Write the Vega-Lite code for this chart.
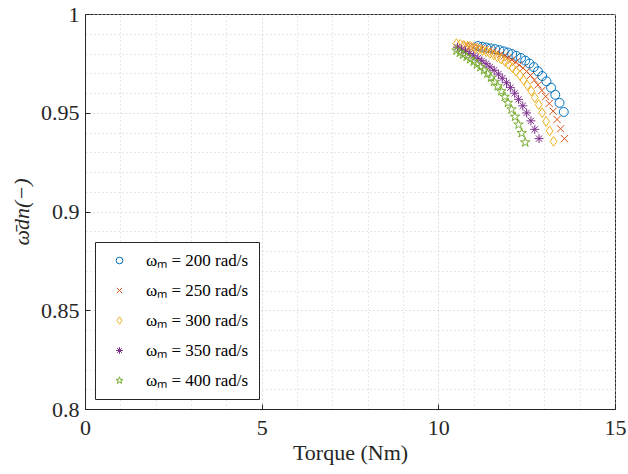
{
  "$schema": "https://vega.github.io/schema/vega-lite/v6.json",
  "width": 530,
  "height": 395,
  "autosize": "none",
  "padding": {"left": 85, "top": 14, "right": 13, "bottom": 65},
  "background": "white",
  "config": {
    "view": {"stroke": "#262626", "strokeWidth": 1},
    "font": "Liberation Serif"
  },
  "data": {
    "values": [
      {"speed": "200", "torque": 11.12, "omega": 0.9838},
      {"speed": "200", "torque": 11.24, "omega": 0.9834},
      {"speed": "200", "torque": 11.36, "omega": 0.9830},
      {"speed": "200", "torque": 11.48, "omega": 0.9826},
      {"speed": "200", "torque": 11.61, "omega": 0.9822},
      {"speed": "200", "torque": 11.73, "omega": 0.9817},
      {"speed": "200", "torque": 11.85, "omega": 0.9811},
      {"speed": "200", "torque": 11.97, "omega": 0.9805},
      {"speed": "200", "torque": 12.09, "omega": 0.9797},
      {"speed": "200", "torque": 12.21, "omega": 0.9788},
      {"speed": "200", "torque": 12.34, "omega": 0.9777},
      {"speed": "200", "torque": 12.46, "omega": 0.9764},
      {"speed": "200", "torque": 12.58, "omega": 0.9749},
      {"speed": "200", "torque": 12.70, "omega": 0.9731},
      {"speed": "200", "torque": 12.82, "omega": 0.9710},
      {"speed": "200", "torque": 12.94, "omega": 0.9686},
      {"speed": "200", "torque": 13.06, "omega": 0.9659},
      {"speed": "200", "torque": 13.19, "omega": 0.9627},
      {"speed": "200", "torque": 13.31, "omega": 0.9591},
      {"speed": "200", "torque": 13.43, "omega": 0.9550},
      {"speed": "200", "torque": 13.55, "omega": 0.9504},
      {"speed": "250", "torque": 10.80, "omega": 0.9843},
      {"speed": "250", "torque": 10.91, "omega": 0.9839},
      {"speed": "250", "torque": 11.01, "omega": 0.9835},
      {"speed": "250", "torque": 11.12, "omega": 0.9830},
      {"speed": "250", "torque": 11.23, "omega": 0.9826},
      {"speed": "250", "torque": 11.33, "omega": 0.9821},
      {"speed": "250", "torque": 11.44, "omega": 0.9816},
      {"speed": "250", "torque": 11.55, "omega": 0.9810},
      {"speed": "250", "torque": 11.65, "omega": 0.9803},
      {"speed": "250", "torque": 11.76, "omega": 0.9796},
      {"speed": "250", "torque": 11.87, "omega": 0.9788},
      {"speed": "250", "torque": 11.97, "omega": 0.9779},
      {"speed": "250", "torque": 12.08, "omega": 0.9768},
      {"speed": "250", "torque": 12.19, "omega": 0.9756},
      {"speed": "250", "torque": 12.29, "omega": 0.9742},
      {"speed": "250", "torque": 12.40, "omega": 0.9726},
      {"speed": "250", "torque": 12.50, "omega": 0.9709},
      {"speed": "250", "torque": 12.61, "omega": 0.9689},
      {"speed": "250", "torque": 12.72, "omega": 0.9666},
      {"speed": "250", "torque": 12.82, "omega": 0.9641},
      {"speed": "250", "torque": 12.93, "omega": 0.9613},
      {"speed": "250", "torque": 13.04, "omega": 0.9582},
      {"speed": "250", "torque": 13.14, "omega": 0.9547},
      {"speed": "250", "torque": 13.25, "omega": 0.9508},
      {"speed": "250", "torque": 13.36, "omega": 0.9466},
      {"speed": "250", "torque": 13.46, "omega": 0.9419},
      {"speed": "250", "torque": 13.57, "omega": 0.9369},
      {"speed": "300", "torque": 10.51, "omega": 0.9850},
      {"speed": "300", "torque": 10.62, "omega": 0.9846},
      {"speed": "300", "torque": 10.72, "omega": 0.9841},
      {"speed": "300", "torque": 10.83, "omega": 0.9837},
      {"speed": "300", "torque": 10.93, "omega": 0.9832},
      {"speed": "300", "torque": 11.04, "omega": 0.9827},
      {"speed": "300", "torque": 11.14, "omega": 0.9821},
      {"speed": "300", "torque": 11.25, "omega": 0.9815},
      {"speed": "300", "torque": 11.36, "omega": 0.9809},
      {"speed": "300", "torque": 11.46, "omega": 0.9801},
      {"speed": "300", "torque": 11.57, "omega": 0.9793},
      {"speed": "300", "torque": 11.67, "omega": 0.9783},
      {"speed": "300", "torque": 11.78, "omega": 0.9772},
      {"speed": "300", "torque": 11.89, "omega": 0.9759},
      {"speed": "300", "torque": 11.99, "omega": 0.9745},
      {"speed": "300", "torque": 12.10, "omega": 0.9728},
      {"speed": "300", "torque": 12.20, "omega": 0.9710},
      {"speed": "300", "torque": 12.31, "omega": 0.9689},
      {"speed": "300", "torque": 12.41, "omega": 0.9666},
      {"speed": "300", "torque": 12.52, "omega": 0.9639},
      {"speed": "300", "torque": 12.63, "omega": 0.9610},
      {"speed": "300", "torque": 12.73, "omega": 0.9577},
      {"speed": "300", "torque": 12.84, "omega": 0.9541},
      {"speed": "300", "torque": 12.94, "omega": 0.9500},
      {"speed": "300", "torque": 13.05, "omega": 0.9456},
      {"speed": "300", "torque": 13.15, "omega": 0.9408},
      {"speed": "300", "torque": 13.26, "omega": 0.9355},
      {"speed": "350", "torque": 10.54, "omega": 0.9832},
      {"speed": "350", "torque": 10.66, "omega": 0.9822},
      {"speed": "350", "torque": 10.77, "omega": 0.9811},
      {"speed": "350", "torque": 10.89, "omega": 0.9800},
      {"speed": "350", "torque": 11.00, "omega": 0.9788},
      {"speed": "350", "torque": 11.12, "omega": 0.9776},
      {"speed": "350", "torque": 11.23, "omega": 0.9763},
      {"speed": "350", "torque": 11.35, "omega": 0.9748},
      {"speed": "350", "torque": 11.46, "omega": 0.9732},
      {"speed": "350", "torque": 11.58, "omega": 0.9715},
      {"speed": "350", "torque": 11.70, "omega": 0.9696},
      {"speed": "350", "torque": 11.81, "omega": 0.9675},
      {"speed": "350", "torque": 11.93, "omega": 0.9652},
      {"speed": "350", "torque": 12.04, "omega": 0.9627},
      {"speed": "350", "torque": 12.16, "omega": 0.9599},
      {"speed": "350", "torque": 12.27, "omega": 0.9568},
      {"speed": "350", "torque": 12.39, "omega": 0.9535},
      {"speed": "350", "torque": 12.50, "omega": 0.9499},
      {"speed": "350", "torque": 12.62, "omega": 0.9459},
      {"speed": "350", "torque": 12.73, "omega": 0.9416},
      {"speed": "350", "torque": 12.85, "omega": 0.9369},
      {"speed": "400", "torque": 10.51, "omega": 0.9815},
      {"speed": "400", "torque": 10.61, "omega": 0.9804},
      {"speed": "400", "torque": 10.70, "omega": 0.9794},
      {"speed": "400", "torque": 10.80, "omega": 0.9783},
      {"speed": "400", "torque": 10.90, "omega": 0.9771},
      {"speed": "400", "torque": 11.00, "omega": 0.9759},
      {"speed": "400", "torque": 11.09, "omega": 0.9745},
      {"speed": "400", "torque": 11.19, "omega": 0.9731},
      {"speed": "400", "torque": 11.29, "omega": 0.9715},
      {"speed": "400", "torque": 11.39, "omega": 0.9698},
      {"speed": "400", "torque": 11.49, "omega": 0.9678},
      {"speed": "400", "torque": 11.58, "omega": 0.9657},
      {"speed": "400", "torque": 11.68, "omega": 0.9634},
      {"speed": "400", "torque": 11.78, "omega": 0.9609},
      {"speed": "400", "torque": 11.88, "omega": 0.9581},
      {"speed": "400", "torque": 11.97, "omega": 0.9550},
      {"speed": "400", "torque": 12.07, "omega": 0.9517},
      {"speed": "400", "torque": 12.17, "omega": 0.9480},
      {"speed": "400", "torque": 12.27, "omega": 0.9440},
      {"speed": "400", "torque": 12.36, "omega": 0.9397},
      {"speed": "400", "torque": 12.46, "omega": 0.9350}
    ]
  },
  "layer": [
    {
      "mark": {"type": "point", "opacity": 0},
      "encoding": {
        "x": {
          "field": "torque", "type": "quantitative",
          "scale": {"domain": [0, 15], "nice": false, "zero": false},
          "axis": {"orient": "top", "values": [1, 2, 3, 4, 6, 7, 8, 9, 11, 12, 13, 14], "labels": false, "ticks": false, "domain": false, "title": null, "grid": true, "gridDash": [1, 3], "gridColor": "#d2d2d2", "gridWidth": 1}
        },
        "y": {
          "field": "omega", "type": "quantitative",
          "scale": {"domain": [0.8, 1], "nice": false, "zero": false},
          "axis": {"orient": "right", "values": [0.81, 0.82, 0.83, 0.84, 0.86, 0.87, 0.88, 0.89, 0.91, 0.92, 0.93, 0.94, 0.96, 0.97, 0.98, 0.99], "labels": false, "ticks": false, "domain": false, "title": null, "grid": true, "gridDash": [1, 3], "gridColor": "#d2d2d2", "gridWidth": 1}
        }
      }
    },
    {
      "mark": {"type": "point", "filled": false, "strokeWidth": 1, "size": 80, "opacity": 1},
      "encoding": {
        "x": {
          "field": "torque", "type": "quantitative",
          "scale": {"domain": [0, 15], "nice": false, "zero": false},
          "axis": {"orient": "bottom", "values": [0, 5, 10, 15], "format": "~g", "labelFlush": false, "title": "Torque (Nm)", "grid": true, "gridDash": [1, 3], "gridColor": "#c0c0c0", "domainColor": "#262626", "tickColor": "#262626", "tickSize": -5, "labelPadding": 13, "labelFontSize": 22, "labelColor": "#262626", "labelFont": "Liberation Serif", "titleFont": "Liberation Serif", "titleFontSize": 22, "titleFontWeight": "normal", "titleColor": "#262626", "titlePadding": 4}
        },
        "y": {
          "field": "omega", "type": "quantitative",
          "scale": {"domain": [0.8, 1], "nice": false, "zero": false},
          "axis": {"orient": "left", "values": [0.8, 0.85, 0.9, 0.95, 1], "format": "~g", "labelFlush": false, "title": "ω̄dn(−)", "grid": true, "gridDash": [1, 3], "gridColor": "#c0c0c0", "domainColor": "#262626", "tickColor": "#262626", "tickSize": -5, "labelPadding": 11, "labelFontSize": 22, "labelColor": "#262626", "labelFont": "Liberation Serif", "titleFont": "Liberation Serif", "titleFontSize": 22, "titleFontWeight": "normal", "titleFontStyle": "italic", "titleColor": "#262626", "titlePadding": 7}
        },
        "color": {
          "field": "speed", "type": "nominal",
          "scale": {"domain": ["200", "250", "300", "350", "400"], "range": ["#0072BD", "#D95319", "#EDB120", "#7E2F8E", "#77AC30"]},
          "legend": {"orient": "none", "legendX": 10, "legendY": 228, "title": null, "labelExpr": "'ωₘ = ' + datum.label + ' rad/s'", "labelFont": "Liberation Serif", "labelFontSize": 17, "labelColor": "black", "strokeColor": "#262626", "fillColor": "white", "padding": 10, "rowPadding": 12, "symbolSize": 45, "symbolStrokeWidth": 1, "symbolOffset": 6, "labelOffset": 18}
        },
        "shape": {
          "field": "speed", "type": "nominal",
          "scale": {"domain": ["200", "250", "300", "350", "400"], "range": ["circle", "M-0.8,-0.8L0.8,0.8M-0.8,0.8L0.8,-0.8", "M0,-1.1L0.75,0L0,1.1L-0.75,0Z", "M-1,0L1,0M0,-1L0,1M-0.7,-0.7L0.7,0.7M-0.7,0.7L0.7,-0.7", "M0,-1.1L0.247,-0.34L1.046,-0.34L0.4,0.13L0.647,0.89L0,0.42L-0.647,0.89L-0.4,0.13L-1.046,-0.34L-0.247,-0.34Z"]}
        }
      }
    }
  ],
  "resolve": {"axis": {"x": "independent", "y": "independent"}}
}
